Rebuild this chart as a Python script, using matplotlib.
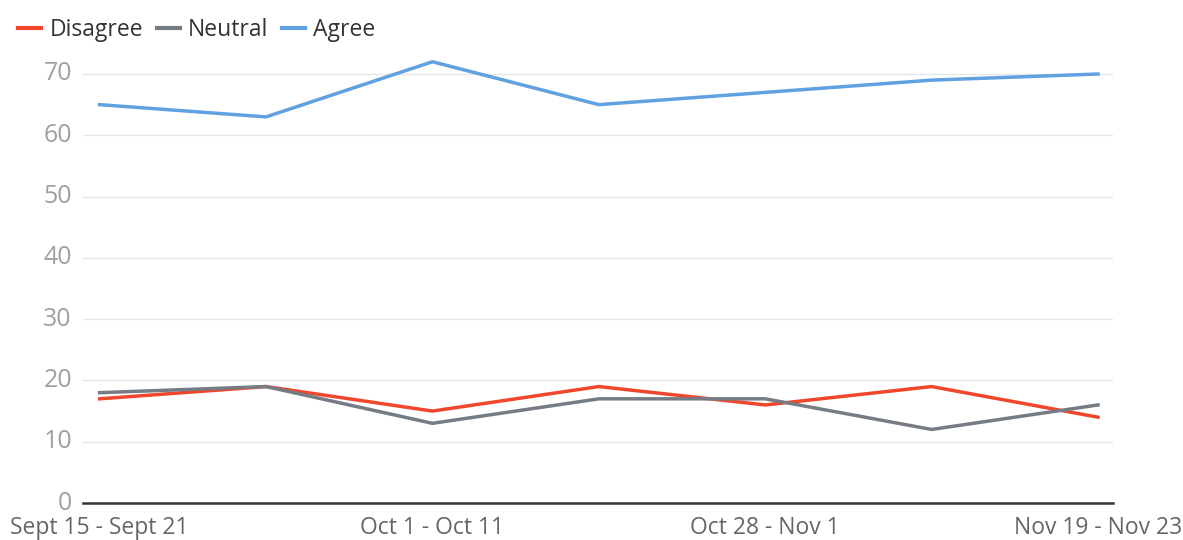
import matplotlib
matplotlib.use("Agg")
import matplotlib.pyplot as plt

periods = ["Sept 15 - Sept 21", "", "Oct 1 - Oct 11", "", "Oct 28 - Nov 1", "", "Nov 19 - Nov 23"]
disagree = [17, 19, 15, 19, 16, 19, 14]
neutral = [18, 19, 13, 17, 17, 12, 16]
agree = [65, 63, 72, 65, 67, 69, 70]
yticks = [0, 10, 20, 30, 40, 50, 60, 70]

c_dis = "#f0462b"
c_neu = "#767c84"
c_agr = "#5fa2df"

plt.rcParams['font.family'] = ['Open Sans', 'DejaVu Sans']

fig = plt.figure(figsize=(11.83, 5.4), dpi=100)
ax = fig.add_axes([83/1183, 1 - 503/540, (1113-83)/1183, (503-55)/540])

x = list(range(len(periods)))
ax.plot(x, disagree, color=c_dis, lw=2.5, label="Disagree")
ax.plot(x, neutral, color=c_neu, lw=2.5, label="Neutral")
ax.plot(x, agree, color=c_agr, lw=2.5, label="Agree")

ax.set_xlim(-0.1, 6.09)
ax.set_ylim(0, 70 * (503 - 55) / (503 - 74))
ax.set_yticks(yticks)
ax.set_xticks(x)
ax.set_xticklabels(periods)
ax.tick_params(axis='x', length=0, pad=9, labelsize=16.5, labelcolor="#666666")
ax.tick_params(axis='y', length=0, pad=8, labelsize=18, labelcolor="#a0a0a0")
for lab in ax.get_yticklabels():
    lab.set_verticalalignment('center')

ax.grid(axis='y', color="#e6e6e6", lw=1)
ax.set_axisbelow(True)
for s in ["top", "right", "left"]:
    ax.spines[s].set_visible(False)
ax.spines["bottom"].set_color("#333333")
ax.spines["bottom"].set_linewidth(1.8)

leg = fig.legend(loc="upper left", bbox_to_anchor=(0.0, 1.0), ncol=3, frameon=False,
                 fontsize=16.5, handlelength=1.0, handletextpad=0.35, columnspacing=0.6,
                 labelcolor="#333333", borderaxespad=0.4)
for h in leg.legend_handles:
    h.set_linewidth(3)

fig.savefig("out.png", dpi=100)
